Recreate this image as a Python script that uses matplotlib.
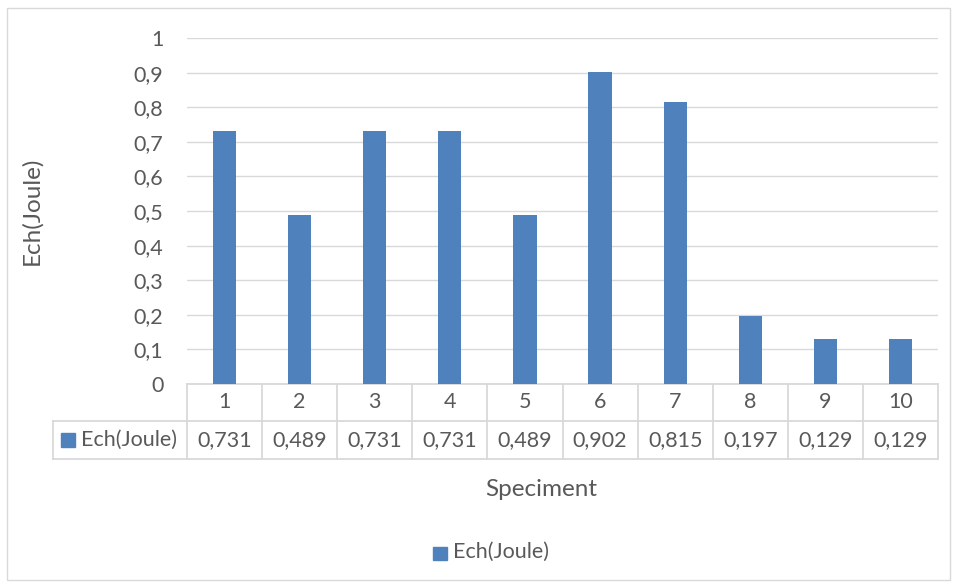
import numpy as np
import matplotlib.pyplot as plt
from matplotlib.patches import Rectangle
from matplotlib.transforms import blended_transform_factory

# Data
categories = ['1', '2', '3', '4', '5', '6', '7', '8', '9', '10']
ech_joule = [0.731, 0.489, 0.731, 0.731, 0.489, 0.902, 0.815, 0.197, 0.129, 0.129]
y_ticks = [0, 0.1, 0.2, 0.3, 0.4, 0.5, 0.6, 0.7, 0.8, 0.9, 1.0]
series_name = 'Ech(Joule)'

bar_color = '#4F81BD'
text_color = '#595959'
grid_color = '#D9D9D9'
font = 'Lato'
fs = 15.5

W, H = 958, 587
fig = plt.figure(figsize=(W / 100, H / 100), dpi=100)
fig.patch.set_facecolor('white')

# chart border
fig.add_artist(Rectangle((7 / W, 1 - 580 / H), 943 / W, 572 / H, transform=fig.transFigure,
                         fill=False, edgecolor=grid_color, linewidth=1))

ax = fig.add_axes([187 / W, 1 - 384 / H, 751 / W, 346 / H])
x = np.arange(len(categories))
ax.bar(x, ech_joule, width=0.31, color=bar_color, zorder=3)
ax.set_xlim(-0.5, len(categories) - 0.5)
ax.set_ylim(0, 1)
ax.set_yticks(y_ticks)
ax.set_yticklabels([('%g' % v).replace('.', ',') for v in y_ticks],
                   fontsize=fs, color=text_color, family=font)
ax.tick_params(axis='y', length=0, pad=17)
ax.set_xticks([])
for v in y_ticks:
    ax.axhline(v, color=grid_color, linewidth=1, zorder=1)
for s in ax.spines.values():
    s.set_visible(False)

# data table below the axis
tr = blended_transform_factory(ax.transData, ax.transAxes)
row1 = -37 / 346
row2 = -75 / 346
label_left = -0.5 - 134 / 75.1
right = len(categories) - 0.5
line_kw = dict(color=grid_color, linewidth=1.3, transform=tr, clip_on=False)
ax.plot([-0.5, right], [0, 0], **line_kw)
ax.plot([label_left, right], [row1, row1], **line_kw)
ax.plot([label_left, right], [row2, row2], **line_kw)
ax.plot([label_left, label_left], [row1, row2], **line_kw)
for b in np.arange(-0.5, right + 0.6, 1.0):
    ax.plot([b, b], [0, row2], **line_kw)
for i, (c, v) in enumerate(zip(categories, ech_joule)):
    ax.text(i, row1 / 2, c, transform=tr, ha='center', va='center',
            fontsize=fs, color=text_color, family=font, clip_on=False)
    ax.text(i, (row1 + row2) / 2, ('%.3f' % v).replace('.', ','), transform=tr,
            ha='center', va='center', fontsize=fs, color=text_color, family=font, clip_on=False)
ax.add_patch(Rectangle((label_left + 0.107, (row1 + row2) / 2 - 0.02), 0.186, 0.04,
                       transform=tr, color=bar_color, clip_on=False))
ax.text(label_left + 0.373, (row1 + row2) / 2, series_name, transform=tr, ha='left', va='center',
        fontsize=fs, color=text_color, family=font, clip_on=False)

# axis titles
fig.text(32 / W, 1 - 211 / H, 'Ech(Joule)', rotation=90, ha='center', va='center',
         fontsize=17.5, color=text_color, family=font)
fig.text(541 / W, 1 - 489 / H, 'Speciment', ha='center', va='center',
         fontsize=17.5, color=text_color, family=font)

# legend
fig.add_artist(Rectangle((433 / W, 1 - 560 / H), 14 / W, 13 / H, transform=fig.transFigure,
                         color=bar_color))
fig.text(453 / W, 1 - 552 / H, series_name, ha='left', va='center',
         fontsize=fs, color=text_color, family=font)

fig.savefig('out.png', dpi=100, facecolor='white')
